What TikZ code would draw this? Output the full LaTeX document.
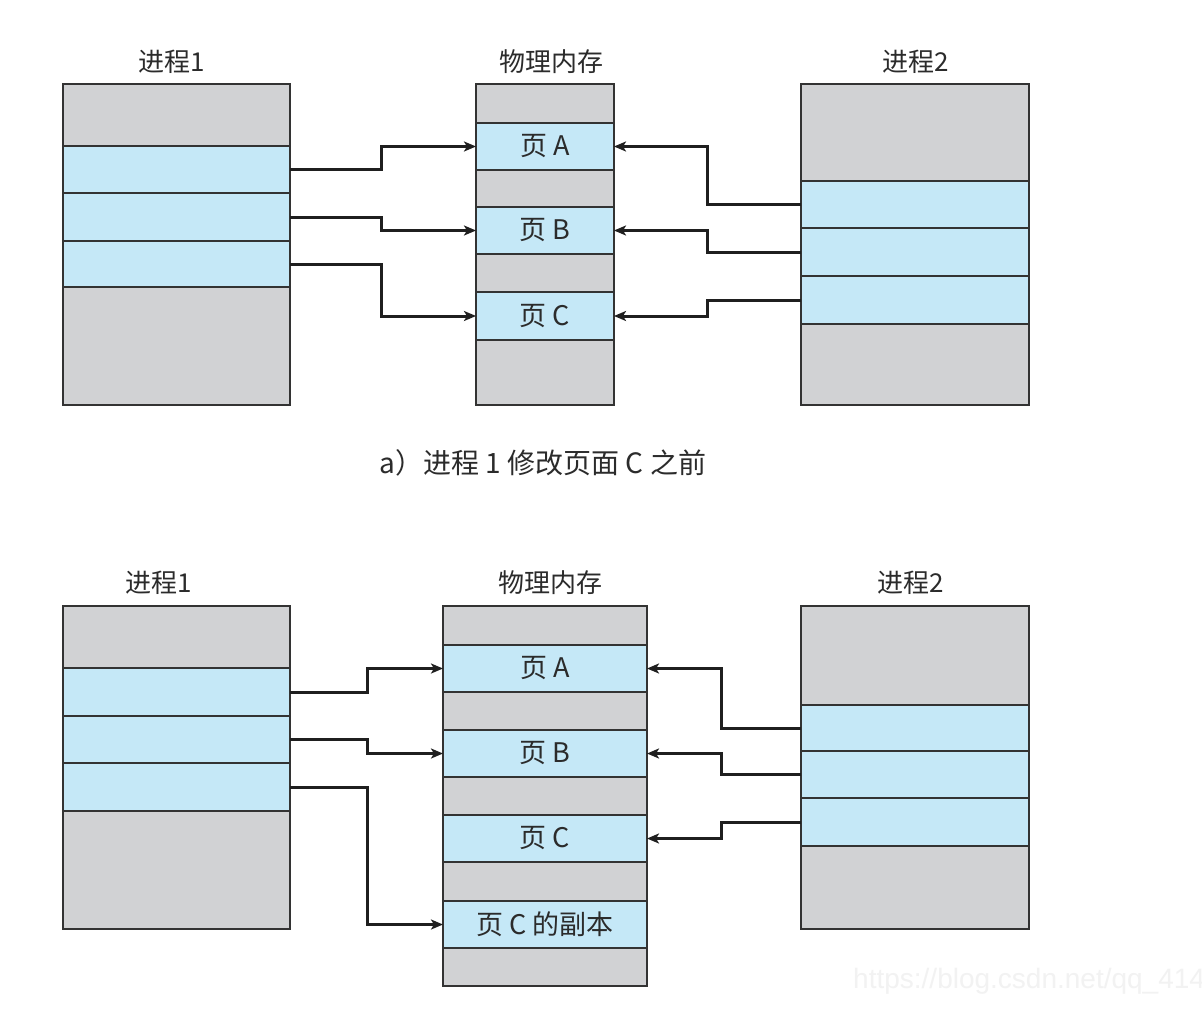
\documentclass[tikz,border=0pt]{standalone}
\usepackage{fontspec}
\setmainfont{Noto Sans CJK SC}
\newfontfamily\wmfont{Liberation Sans}
\usetikzlibrary{arrows.meta}
\definecolor{cellgray}{HTML}{D1D2D4}
\definecolor{cellblue}{HTML}{C5E8F7}
\definecolor{edge}{HTML}{333333}
\definecolor{txt}{HTML}{2B2B2B}
\tikzset{
  cell/.style={draw=edge, line width=1.5pt, inner sep=0pt, outer sep=0pt, text=txt, font=\fontsize{27}{30}\selectfont},
  gcell/.style={cell, fill=cellgray},
  bcell/.style={cell, fill=cellblue},
  title/.style={text=txt, font=\fontsize{26}{30}\selectfont, inner sep=0pt},
  arr/.style={draw=black!88, line width=3pt, -{Stealth[length=12pt,width=10pt,inset=3pt]}},
}
\begin{document}
\begin{tikzpicture}[x=1pt,y=-1pt]
\useasboundingbox[fill=white] (0,0) rectangle (1202,1030);
% ---------------- top ----------------
\node[title] (t1lab) at (172,62) {进程1};
\node[title] (tmlab) at (551,62) {物理内存};
\node[title] (t2lab) at (916,62) {进程2};
% process 1
\node[gcell, minimum width=227pt, minimum height=62pt] (t1r1) at (176.5,115) {};
\node[bcell, minimum width=227pt, minimum height=47pt] (t1r2) at (176.5,169.5) {};
\node[bcell, minimum width=227pt, minimum height=48pt] (t1r3) at (176.5,217) {};
\node[bcell, minimum width=227pt, minimum height=46pt] (t1r4) at (176.5,264) {};
\node[gcell, minimum width=227pt, minimum height=118pt] (t1r5) at (176.5,346) {};
% memory
\node[gcell, minimum width=138pt, minimum height=39pt] (tm1) at (545,103.5) {};
\node[bcell, minimum width=138pt, minimum height=47pt] (tmA) at (545,146.5) {页 A};
\node[gcell, minimum width=138pt, minimum height=37pt] (tm3) at (545,188.5) {};
\node[bcell, minimum width=138pt, minimum height=47pt] (tmB) at (545,230.5) {页 B};
\node[gcell, minimum width=138pt, minimum height=38pt] (tm5) at (545,273) {};
\node[bcell, minimum width=138pt, minimum height=48pt] (tmC) at (545,316) {页 C};
\node[gcell, minimum width=138pt, minimum height=65pt] (tm7) at (545,372.5) {};
% process 2
\node[gcell, minimum width=228pt, minimum height=97pt] (t2r1) at (915,132.5) {};
\node[bcell, minimum width=228pt, minimum height=47pt] (t2r2) at (915,204.5) {};
\node[bcell, minimum width=228pt, minimum height=48pt] (t2r3) at (915,252) {};
\node[bcell, minimum width=228pt, minimum height=48pt] (t2r4) at (915,300) {};
\node[gcell, minimum width=228pt, minimum height=81pt] (t2r5) at (915,364.5) {};
% bends
\coordinate (tbx1) at (381,0);
\coordinate (tbx2) at (707,0);
\draw[arr] (t1r2.east) -- (t1r2.east -| tbx1) |- (tmA.west);
\draw[arr] (t1r3.east) -- (t1r3.east -| tbx1) |- (tmB.west);
\draw[arr] (t1r4.east) -- (t1r4.east -| tbx1) |- (tmC.west);
\draw[arr] (t2r2.west) -- (t2r2.west -| tbx2) |- (tmA.east);
\draw[arr] (t2r3.west) -- (t2r3.west -| tbx2) |- (tmB.east);
\draw[arr] (t2r4.west) -- (t2r4.west -| tbx2) |- (tmC.east);
\node[title, font=\fontsize{28}{32}\selectfont] (cap) at (543,463) {a）进程 1 修改页面 C 之前};
% ---------------- bottom ----------------
\node[title] (b1lab) at (159,583) {进程1};
\node[title] (bmlab) at (550,583) {物理内存};
\node[title] (b2lab) at (911,583) {进程2};
% process 1
\node[gcell, minimum width=227pt, minimum height=62pt] (b1r1) at (176.5,637) {};
\node[bcell, minimum width=227pt, minimum height=48pt] (b1r2) at (176.5,692) {};
\node[bcell, minimum width=227pt, minimum height=47pt] (b1r3) at (176.5,739.5) {};
\node[bcell, minimum width=227pt, minimum height=48pt] (b1r4) at (176.5,787) {};
\node[gcell, minimum width=227pt, minimum height=118pt] (b1r5) at (176.5,870) {};
% memory
\node[gcell, minimum width=204pt, minimum height=39pt] (bm1) at (545,625.5) {};
\node[bcell, minimum width=204pt, minimum height=47pt] (bmA) at (545,668.5) {页 A};
\node[gcell, minimum width=204pt, minimum height=38pt] (bm3) at (545,711) {};
\node[bcell, minimum width=204pt, minimum height=47pt] (bmB) at (545,753.5) {页 B};
\node[gcell, minimum width=204pt, minimum height=38pt] (bm5) at (545,796) {};
\node[bcell, minimum width=204pt, minimum height=47pt] (bmC) at (545,838.5) {页 C};
\node[gcell, minimum width=204pt, minimum height=39pt] (bm7) at (545,881.5) {};
\node[bcell, minimum width=204pt, minimum height=47pt] (bmD) at (545,924.5) {页 C 的副本};
\node[gcell, minimum width=204pt, minimum height=38pt] (bm9) at (545,967) {};
% process 2
\node[gcell, minimum width=228pt, minimum height=99pt] (b2r1) at (915,655.5) {};
\node[bcell, minimum width=228pt, minimum height=46pt] (b2r2) at (915,728) {};
\node[bcell, minimum width=228pt, minimum height=47pt] (b2r3) at (915,774.5) {};
\node[bcell, minimum width=228pt, minimum height=48pt] (b2r4) at (915,822) {};
\node[gcell, minimum width=228pt, minimum height=83pt] (b2r5) at (915,887.5) {};
\coordinate (bbx1) at (367,0);
\coordinate (bbx2) at (721,0);
\draw[arr] (b1r2.east) -- (b1r2.east -| bbx1) |- (bmA.west);
\draw[arr] (b1r3.east) -- (b1r3.east -| bbx1) |- (bmB.west);
\draw[arr] (b1r4.east) -- (b1r4.east -| bbx1) |- (bmD.west);
\draw[arr] (b2r2.west) -- (b2r2.west -| bbx2) |- (bmA.east);
\draw[arr] (b2r3.west) -- (b2r3.west -| bbx2) |- (bmB.east);
\draw[arr] (b2r4.west) -- (b2r4.west -| bbx2) |- (bmC.east);
% watermark
\node[anchor=west, inner sep=0pt, text=black!5, font=\wmfont\fontsize{28}{30}\selectfont] (wm) at (853,981) {https://blog.csdn.net/qq\_414};
\end{tikzpicture}
\end{document}
